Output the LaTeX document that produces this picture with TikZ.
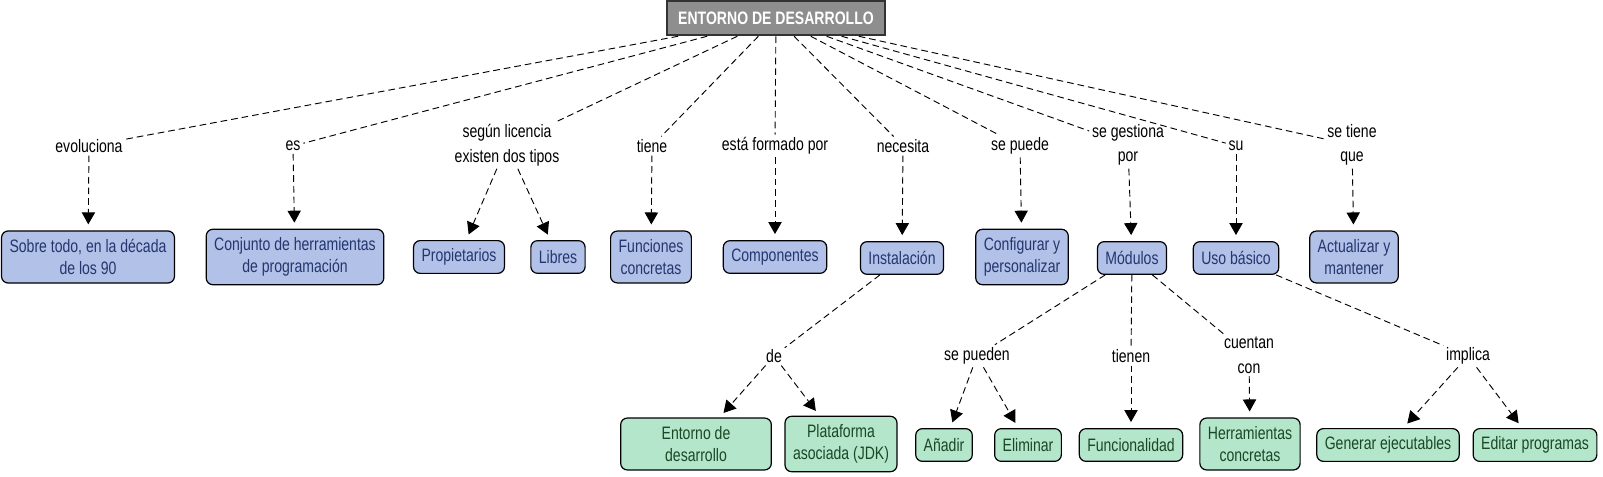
\documentclass[tikz,border=0pt]{standalone}
\usepackage{fontspec}
\setmainfont{Liberation Sans}[FakeStretch=0.78]
\usetikzlibrary{arrows.meta}
\definecolor{rootgray}{RGB}{142,142,142}
\definecolor{topicblue}{RGB}{177,193,232}
\definecolor{topictext}{RGB}{36,54,110}
\definecolor{detailgreen}{RGB}{180,230,204}
\definecolor{detailtext}{RGB}{26,72,36}
\tikzset{
  >={Triangle[length=9pt,width=10pt]},
}
\tikzstyle{every node}=[font=\fontsize{13.5}{17}\selectfont]
\tikzstyle{root}=[draw=black!80,line width=1.4pt,fill=rootgray,text=white,font=\fontsize{13.5}{17}\selectfont\bfseries,minimum width=164pt,minimum height=26pt]
\tikzstyle{topic}=[draw,line width=0.9pt,rounded corners=5pt,fill=topicblue,text=topictext,align=center,inner xsep=6pt,inner ysep=6pt,minimum height=24.5pt]
\tikzstyle{detail}=[topic,fill=detailgreen,text=detailtext]
\tikzstyle{phrase}=[align=center,inner sep=2pt,font=\fontsize{13.5}{18.5}\selectfont]
\tikzstyle{joint}=[line width=0.7pt,dash pattern=on 5pt off 3pt]
\tikzstyle{arrow}=[joint,->,shorten >=4.5pt]

\begin{document}
\begin{tikzpicture}[x=0.75pt,y=-0.75pt]
    \useasboundingbox (0,0) rectangle (1603,477);
    \node[root] (root) at (776,18) {ENTORNO DE DESARROLLO};

    \node[phrase] (evol) at (89,146) {evoluciona};
    \node[phrase] (es) at (293,146) {es};
    \node[phrase] (lic) at (507,145) {según licencia\\existen dos tipos};
    \node[phrase] (tiene) at (652,146) {tiene};
    \node[phrase] (formado) at (775,146) {está formado por};
    \node[phrase] (necesita) at (903,146) {necesita};
    \node[phrase] (puede) at (1020,146) {se puede};
    \node[phrase] (gestiona) at (1128,145) {se gestiona\\por};
    \node[phrase] (su) at (1236,146) {su};
    \node[phrase] (tienequ) at (1352,145) {se tiene\\que};

    \node[topic] (decada) at (88,257) {Sobre todo, en la década\\de los 90};
    \node[topic] (conjunto) at (295,257) {Conjunto de herramientas\\de programación};
    \node[topic] (propiet) at (459,257) {Propietarios};
    \node[topic] (libres) at (558,257) {Libres};
    \node[topic] (funciones) at (651,257) {Funciones\\concretas};
    \node[topic] (componentes) at (775,257) {Componentes};
    \node[topic] (instalacion) at (902,258) {Instalación};
    \node[topic] (configurar) at (1022,257) {Configurar y\\personalizar};
    \node[topic] (modulos) at (1132,258) {Módulos};
    \node[topic] (uso) at (1236,258) {Uso básico};
    \node[topic] (actualizar) at (1354,257) {Actualizar y\\mantener};

    \node[phrase] (de) at (774,356) {de};
    \node[phrase] (sepueden) at (977,356) {se pueden};
    \node[phrase] (tienen) at (1131,356) {tienen};
    \node[phrase] (cuentan) at (1249,355) {cuentan\\con};
    \node[phrase] (implica) at (1468,356) {implica};

    \node[detail,minimum width=113pt] (entorno) at (696,444) {Entorno de\\desarrollo};
    \node[detail] (plataforma) at (841,444) {Plataforma\\asociada (JDK)};
    \node[detail] (anadir) at (944,445) {Añadir};
    \node[detail] (eliminar) at (1028,445) {Eliminar};
    \node[detail] (funcionalidad) at (1131,445) {Funcionalidad};
    \node[detail] (herramientas) at (1250,444) {Herramientas\\concretas};
    \node[detail] (generar) at (1388,445) {Generar ejecutables};
    \node[detail] (editar) at (1535,445) {Editar programas};

    \foreach \p in {evol,es,lic,tiene,formado,necesita,puede,gestiona,su,tienequ}
        \draw[joint] (root) -- (\p);

    \draw[arrow] (evol) -- (decada);
    \draw[arrow] (es) -- (conjunto);
    \draw[arrow] (lic) -- (propiet);
    \draw[arrow] (lic) -- (libres);
    \draw[arrow] (tiene) -- (funciones);
    \draw[arrow] (formado) -- (componentes);
    \draw[arrow] (necesita) -- (instalacion);
    \draw[arrow] (puede) -- (configurar);
    \draw[arrow] (gestiona) -- (modulos);
    \draw[arrow] (su) -- (uso);
    \draw[arrow] (tienequ) -- (actualizar);

    \draw[joint] (instalacion) -- (de);
    \draw[joint] (modulos) -- (sepueden);
    \draw[joint] (modulos) -- (tienen);
    \draw[joint] (modulos) -- (cuentan);
    \draw[joint] (uso) -- (implica);

    \draw[arrow] (de) -- (entorno);
    \draw[arrow] (de) -- (plataforma);
    \draw[arrow] (sepueden) -- (anadir);
    \draw[arrow] (sepueden) -- (eliminar);
    \draw[arrow] (tienen) -- (funcionalidad);
    \draw[arrow] (cuentan) -- (herramientas);
    \draw[arrow] (implica) -- (generar);
    \draw[arrow] (implica) -- (editar);
\end{tikzpicture}
\end{document}
